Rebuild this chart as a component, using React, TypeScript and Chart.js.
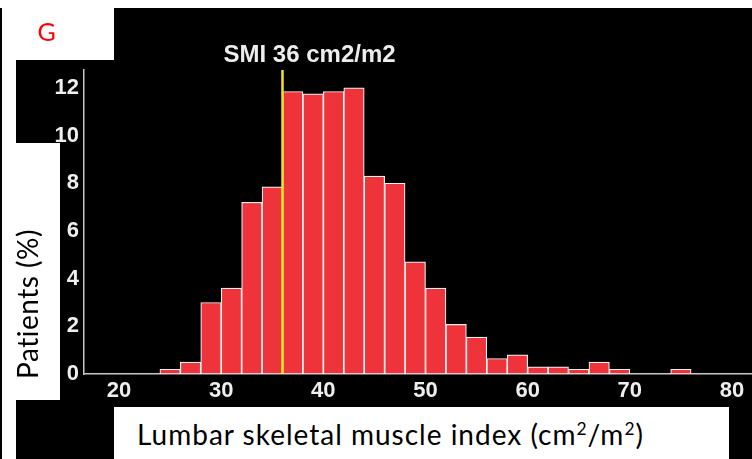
import React, { useEffect, useRef } from "react";
import { Chart, registerables } from "chart.js";

Chart.register(...registerables);

// ---- data ----
const BIN_CENTERS = [25, 27, 29, 31, 33, 35, 37, 39, 41, 43, 45, 47, 49, 51, 53, 55, 57, 59, 61, 63, 65, 67, 69, 71, 73, 75];
const PATIENT_PCT = [0.2, 0.5, 3.0, 3.6, 7.2, 7.85, 11.85, 11.75, 11.85, 12.0, 8.3, 8.0, 4.7, 3.6, 2.08, 1.55, 0.65, 0.8, 0.3, 0.3, 0.2, 0.5, 0.2, 0, 0, 0.2];
const X_TICKS = [20, 30, 40, 50, 60, 70, 80];
const Y_TICKS = [0, 2, 4, 6, 8, 10, 12];
const SMI_CUTOFF = 36;
const SMI_LABEL = "SMI 36 cm2/m2";
const X_TITLE = "Lumbar skeletal muscle index (cm";
const Y_TITLE = "Patients (%)";
const PANEL_LABEL = "G";

const TICK_FONT = { family: '"Liberation Sans", Arial, sans-serif', weight: "bold" as const, size: 22 };

const smiPlugin = {
  id: "smiLine",
  afterDatasetsDraw(chart: any) {
    const { ctx, chartArea, scales } = chart;
    const x = scales.x.getPixelForValue(SMI_CUTOFF);
    ctx.save();
    ctx.strokeStyle = "#F3E21B";
    ctx.lineWidth = 2.5;
    ctx.beginPath();
    ctx.moveTo(x, chartArea.top);
    ctx.lineTo(x, chartArea.bottom);
    ctx.stroke();
    ctx.fillStyle = "#EDEDED";
    ctx.font = 'bold 24px "Liberation Sans", Arial, sans-serif';
    ctx.textBaseline = "middle";
    ctx.textAlign = "left";
    ctx.fillText(SMI_LABEL, x - 59, chartArea.top - 15);
    ctx.restore();
  },
};

export default function App() {
  const canvasRef = useRef<HTMLCanvasElement | null>(null);

  useEffect(() => {
    if (!canvasRef.current) return;
    const chart = new Chart(canvasRef.current, {
      type: "bar",
      data: {
        datasets: [
          {
            data: BIN_CENTERS.map((x, i) => ({ x, y: PATIENT_PCT[i] })),
            backgroundColor: "#EE333B",
            borderColor: "#F2F2F2",
            borderWidth: 1.2,
            borderSkipped: false,
            barPercentage: 1,
            categoryPercentage: 1,
          } as any,
        ],
      },
      options: {
        responsive: false,
        maintainAspectRatio: false,
        animation: false,
        layout: { padding: { top: 70, left: 0, right: 0, bottom: 0 } },
        plugins: {
          legend: { display: false },
          tooltip: { enabled: false },
          title: { display: false },
        },
        scales: {
          x: {
            type: "linear",
            min: 16.57,
            max: 81.96,
            offset: false,
            afterBuildTicks: (s: any) => {
              s.ticks = X_TICKS.map((v) => ({ value: v }));
            },
            afterFit: (s: any) => {
              s.height = 85;
            },
            grid: { display: false, drawTicks: false, offset: false },
            border: { display: true, color: "#C8C8C8", width: 1.5 },
            ticks: {
              color: "#EEEEEE",
              font: TICK_FONT,
              padding: 4,
              maxRotation: 0,
              autoSkip: false,
            },
          },
          y: {
            type: "linear",
            min: 0,
            max: 12.75,
            afterBuildTicks: (s: any) => {
              s.ticks = Y_TICKS.map((v) => ({ value: v }));
            },
            afterFit: (s: any) => {
              s.width = 84;
            },
            grid: { display: false, drawTicks: false },
            border: { display: true, color: "#C8C8C8", width: 1.5 },
            ticks: {
              color: "#EEEEEE",
              font: TICK_FONT,
              padding: 5,
              autoSkip: false,
            },
          },
        },
      } as any,
      plugins: [smiPlugin],
    });
    return () => chart.destroy();
  }, []);

  const titleFont = 'Lato, "Open Sans", "Liberation Sans", sans-serif';

  return (
    <div
      style={{
        position: "fixed",
        left: 0,
        top: 0,
        width: 752,
        height: 459,
        background: "#FFFFFF",
        overflow: "hidden",
      }}
    >
      <div style={{ position: "absolute", left: 16, top: 8, right: 0, bottom: 0, background: "#000" }} />
      <div style={{ position: "absolute", left: 0, top: 8, width: 1.5, bottom: 0, background: "#000" }} />
      <canvas
        ref={canvasRef}
        width={752}
        height={459}
        style={{ position: "absolute", left: 0, top: 0, width: 752, height: 459 }}
      />
      {/* panel label box */}
      <div style={{ position: "absolute", left: 1.5, top: 8, width: 112.5, height: 52, background: "#fff" }}>
        <span
          style={{
            position: "absolute",
            left: 36,
            top: 8,
            color: "#FF0000",
            fontFamily: titleFont,
            fontSize: 25,
            lineHeight: "30px",
          }}
        >
          {PANEL_LABEL}
        </span>
      </div>
      {/* y-title box */}
      <div style={{ position: "absolute", left: 1.5, top: 143, width: 58.5, height: 257, background: "#fff" }} />
      <div
        style={{
          position: "absolute",
          left: 28,
          top: 304,
          transform: "translate(-50%, -50%) rotate(-90deg)",
          whiteSpace: "nowrap",
          fontFamily: titleFont,
          fontSize: 28,
          letterSpacing: 0.5,
          color: "#000",
          lineHeight: "33.6px",
        }}
      >
        {Y_TITLE}
      </div>
      {/* x-title box */}
      <div
        style={{
          position: "absolute",
          left: 114,
          top: 407,
          width: 615,
          height: 52,
          background: "#fff",
        }}
      >
        <span
          style={{
            position: "absolute",
            left: 23,
            top: 11,
            whiteSpace: "nowrap",
            fontFamily: titleFont,
            fontSize: 28,
            letterSpacing: 1,
            color: "#000",
            lineHeight: "33.6px",
          }}
        >
          {X_TITLE}
          <sup style={{ fontSize: "0.62em", lineHeight: 0, verticalAlign: "0.6em" }}>2</sup>/m
          <sup style={{ fontSize: "0.62em", lineHeight: 0, verticalAlign: "0.6em" }}>2</sup>)
        </span>
      </div>
    </div>
  );
}
